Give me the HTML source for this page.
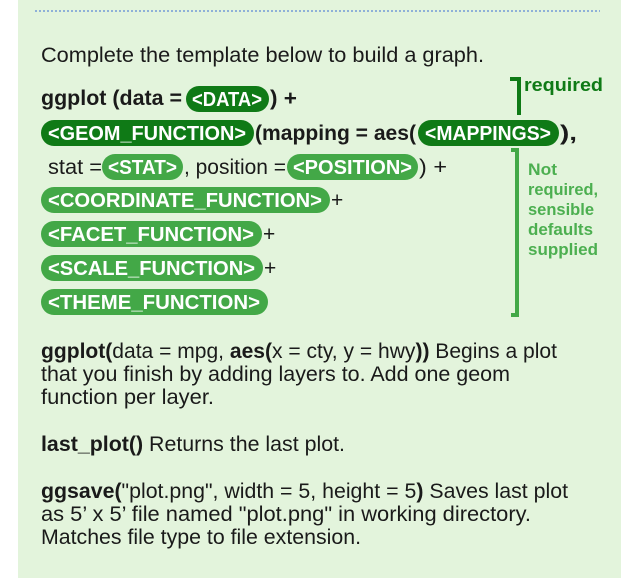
<!DOCTYPE html>
<html><head><meta charset="utf-8"><style>
html,body{margin:0;padding:0;background:#fff;}
svg{display:block;font-family:"Liberation Sans",sans-serif;}
.t{font-size:21px;fill:#1a1a1a;}
.b{font-weight:bold;}
.p{font-size:20px;font-weight:bold;fill:#fff;}
</style></head><body>
<svg width="632" height="588" viewBox="0 0 632 588" xmlns="http://www.w3.org/2000/svg">
<rect x="18" y="0" width="603" height="578" fill="#e3f4dc"/>
<line x1="35" y1="11" x2="600" y2="11" stroke="#8fb0d8" stroke-width="2" stroke-dasharray="2,2"/>
<text class="t" x="41" y="62" textLength="443" lengthAdjust="spacingAndGlyphs">Complete the template below to build a graph.</text>

<text class="t b" x="41" y="105" textLength="141" lengthAdjust="spacingAndGlyphs">ggplot (data =</text>
<rect x="186" y="86" width="83" height="26" rx="13" fill="#0f7a16"/>
<text class="p" x="192" y="106" textLength="70" lengthAdjust="spacingAndGlyphs">&lt;DATA&gt;</text>
<text class="t b" x="270" y="105" textLength="27" lengthAdjust="spacingAndGlyphs">) +</text>

<rect x="41" y="120" width="213" height="26" rx="13" fill="#0f7a16"/>
<text class="p" x="48" y="140" textLength="198" lengthAdjust="spacingAndGlyphs">&lt;GEOM_FUNCTION&gt;</text>
<text class="t b" x="255" y="140" textLength="161" lengthAdjust="spacingAndGlyphs">(mapping = aes(</text>
<rect x="418" y="120" width="141" height="26" rx="13" fill="#0f7a16"/>
<text class="p" x="425" y="140" textLength="126" lengthAdjust="spacingAndGlyphs">&lt;MAPPINGS&gt;</text>
<text class="t b" x="560" y="140" textLength="17" lengthAdjust="spacingAndGlyphs">),</text>

<text class="t" x="48" y="174" textLength="54" lengthAdjust="spacingAndGlyphs">stat =</text>
<rect x="102" y="154" width="81" height="26" rx="13" fill="#43a847"/>
<text class="p" x="108" y="174" textLength="69" lengthAdjust="spacingAndGlyphs">&lt;STAT&gt;</text>
<text class="t" x="184" y="174" textLength="102" lengthAdjust="spacingAndGlyphs">, position =</text>
<rect x="287" y="154" width="131" height="26" rx="13" fill="#43a847"/>
<text class="p" x="293" y="174" textLength="119" lengthAdjust="spacingAndGlyphs">&lt;POSITION&gt;</text>
<text class="t" x="419" y="174" textLength="28" lengthAdjust="spacingAndGlyphs">) +</text>

<rect x="41" y="187" width="289" height="26" rx="13" fill="#43a847"/>
<text class="p" x="48" y="207" textLength="274" lengthAdjust="spacingAndGlyphs">&lt;COORDINATE_FUNCTION&gt;</text>
<text class="t" x="331" y="207">+</text>
<rect x="41" y="221" width="221" height="26" rx="13" fill="#43a847"/>
<text class="p" x="48" y="241" textLength="206" lengthAdjust="spacingAndGlyphs">&lt;FACET_FUNCTION&gt;</text>
<text class="t" x="263" y="241">+</text>
<rect x="41" y="255" width="222" height="26" rx="13" fill="#43a847"/>
<text class="p" x="48" y="275" textLength="207" lengthAdjust="spacingAndGlyphs">&lt;SCALE_FUNCTION&gt;</text>
<text class="t" x="264" y="275">+</text>
<rect x="41" y="289" width="227" height="26" rx="13" fill="#43a847"/>
<text class="p" x="48" y="309" textLength="212" lengthAdjust="spacingAndGlyphs">&lt;THEME_FUNCTION&gt;</text>

<path d="M510 79 H519 V115" fill="none" stroke="#0f7a16" stroke-width="4"/>
<text x="524" y="91" font-size="18" font-weight="bold" fill="#0f7a16" textLength="79" lengthAdjust="spacingAndGlyphs">required</text>
<path d="M511 150 H517 V315 H511" fill="none" stroke="#43a847" stroke-width="4"/>
<g font-size="17" font-weight="bold" fill="#4caf50">
<text x="528" y="175" textLength="29" lengthAdjust="spacingAndGlyphs">Not</text>
<text x="528" y="195" textLength="70" lengthAdjust="spacingAndGlyphs">required,</text>
<text x="528" y="215" textLength="66" lengthAdjust="spacingAndGlyphs">sensible</text>
<text x="528" y="235" textLength="65" lengthAdjust="spacingAndGlyphs">defaults</text>
<text x="528" y="255" textLength="70" lengthAdjust="spacingAndGlyphs">supplied</text>
</g>

<text class="t" x="41" y="358" textLength="516" lengthAdjust="spacingAndGlyphs"><tspan class="b">ggplot(</tspan>data = mpg, <tspan class="b">aes(</tspan>x = cty, y = hwy<tspan class="b">))</tspan> Begins a plot</text>
<text class="t" x="41" y="381" textLength="469" lengthAdjust="spacingAndGlyphs">that you finish by adding layers to. Add one geom</text>
<text class="t" x="41" y="404" textLength="173" lengthAdjust="spacingAndGlyphs">function per layer.</text>
<text class="t" x="41" y="451" textLength="304" lengthAdjust="spacingAndGlyphs"><tspan class="b">last_plot()</tspan> Returns the last plot.</text>
<text class="t" x="41" y="498" textLength="527" lengthAdjust="spacingAndGlyphs"><tspan class="b">ggsave(</tspan>"plot.png", width = 5, height = 5<tspan class="b">)</tspan> Saves last plot</text>
<text class="t" x="41" y="521" textLength="490" lengthAdjust="spacingAndGlyphs">as 5’ x 5’ file named "plot.png" in working directory.</text>
<text class="t" x="41" y="544" textLength="320" lengthAdjust="spacingAndGlyphs">Matches file type to file extension.</text>
</svg>
</body></html>
